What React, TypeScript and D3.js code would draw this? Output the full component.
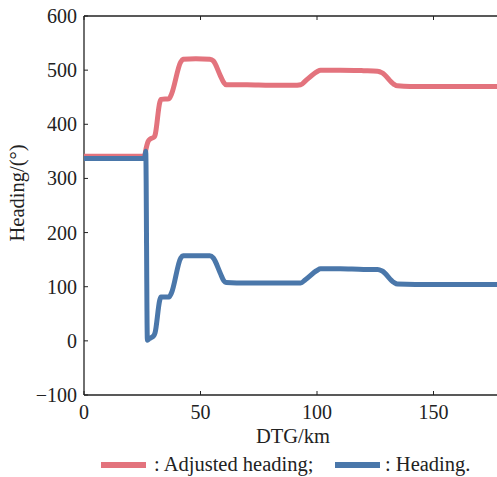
import React from "react";
import * as d3 from "d3";

const distKm = [0, 10, 20, 26, 26.5, 27.5, 28.5, 30, 30.5, 32.5, 33, 36.5, 37.5, 41.5, 42.5, 48, 54, 55.5, 58.5, 60, 61, 70, 80, 90, 93, 95, 100, 101.5, 110, 120, 126, 128, 133, 134.5, 140, 150, 160, 170, 180];
const adjustedHeading = [341, 341, 341, 341, 352, 368, 373, 376, 380, 440, 446, 447, 455, 515, 520, 521, 520, 517, 490, 477, 473, 473, 472, 472, 473, 480, 497, 500, 500, 499, 498, 495, 474, 471, 470, 470, 470, 470, 470];

const headingKm = [0, 10, 20, 26, 26.5, 27.2, 28, 30, 30.5, 32.5, 33, 36.5, 37.5, 41.5, 42.5, 48, 54, 55.5, 58.5, 60, 61, 70, 80, 93, 95, 100, 101.5, 110, 120, 126, 128, 133, 134.5, 150, 180];
const heading = [337, 337, 337, 337, 350, 1, 4, 10, 15, 75, 81, 81, 88, 153, 157, 157, 157, 153, 125, 111, 108, 107, 107, 107, 113, 130, 133, 133, 132, 132, 129, 108, 105, 104, 104];

const xTicks = [0, 50, 100, 150];
const yTicks = [-100, 0, 100, 200, 300, 400, 500, 600];

const RED = "#e3737d";
const BLUE = "#4a77aa";
const FONT = "'Liberation Serif', 'Times New Roman', serif";

export default function App() {
  const W = 497, H = 477;
  const left = 84, top = 16, bottom = 395;
  const x = d3.scaleLinear().domain([0, 150]).range([left, 433.5]);
  const y = d3.scaleLinear().domain([-100, 600]).range([bottom, top]);
  const right = x(180);

  const line = d3.line<[number, number]>().x(d => x(d[0])).y(d => y(d[1])).curve(d3.curveMonotoneX);
  const redPath = line(distKm.map((k, i) => [k, adjustedHeading[i]] as [number, number])) || "";
  const bluePath = line(headingKm.map((k, i) => [k, heading[i]] as [number, number])) || "";

  return (
    <svg width={W} height={H} style={{ position: "absolute", left: 0, top: 0, background: "#fff" }} fontFamily={FONT}>
      <defs>
        <clipPath id="plot">
          <rect x={left} y={top} width={right - left} height={bottom - top} />
        </clipPath>
      </defs>
      <line x1={left} x2={right} y1={top} y2={top} stroke="#222" strokeWidth={1.3} />
      <line x1={left} x2={right} y1={bottom} y2={bottom} stroke="#222" strokeWidth={1.3} />
      <line x1={left} x2={left} y1={top} y2={bottom} stroke="#222" strokeWidth={1.3} />
      {xTicks.map(t => (
        <g key={"x" + t}>
          <line x1={x(t)} x2={x(t)} y1={bottom} y2={bottom - 4} stroke="#222" strokeWidth={1} />
          <line x1={x(t)} x2={x(t)} y1={top} y2={top + 4} stroke="#222" strokeWidth={1} />
          <text x={x(t)} y={419} textAnchor="middle" fontSize={20} fill="#222">{t}</text>
        </g>
      ))}
      {yTicks.map(t => (
        <g key={"y" + t}>
          <line x1={left} x2={left + 4} y1={y(t)} y2={y(t)} stroke="#222" strokeWidth={1} />
          <text x={77} y={y(t) + 7} textAnchor="end" fontSize={20} fill="#222">{t < 0 ? "\u2212" + Math.abs(t) : t}</text>
        </g>
      ))}
      <g clipPath="url(#plot)" fill="none" strokeLinejoin="round" strokeLinecap="round">
        <path d={redPath} stroke={RED} strokeWidth={5} />
        <path d={bluePath} stroke={BLUE} strokeWidth={5} />
      </g>
      <text x={293} y={443} textAnchor="middle" fontSize={20.5} fill="#222">DTG/km</text>
      <text transform="translate(24,193) rotate(-90)" textAnchor="middle" fontSize={20.5} fill="#222">Heading/(°)</text>
      <line x1={101} x2={146} y1={465} y2={465} stroke={RED} strokeWidth={6} />
      <text x={154} y={471} fontSize={20.5} fill="#222">: Adjusted heading;</text>
      <line x1={335} x2={380} y1={465} y2={465} stroke={BLUE} strokeWidth={6} />
      <text x={385} y={471} fontSize={20.5} fill="#222">: Heading.</text>
    </svg>
  );
}
